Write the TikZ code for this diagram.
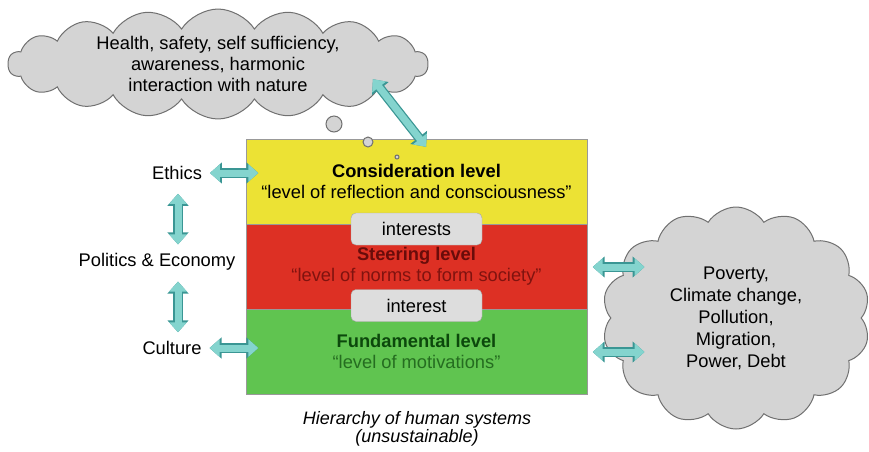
\documentclass[tikz,border=0pt]{standalone}
\usepackage{fontspec}
\setmainfont{Liberation Sans}
\usetikzlibrary{shapes.symbols,arrows.meta,calc}
\definecolor{layeryellow}{RGB}{236,226,52}
\definecolor{layerred}{RGB}{221,48,36}
\definecolor{layergreen}{RGB}{96,196,80}
\definecolor{cloudgray}{RGB}{212,212,212}
\definecolor{cloudline}{RGB}{112,112,112}
\definecolor{tealfill}{RGB}{132,212,206}
\definecolor{tealline}{RGB}{58,150,148}
\definecolor{steertext}{RGB}{105,12,10}
\definecolor{fundtext}{RGB}{12,72,12}
\begin{document}
\begin{tikzpicture}[x=1pt,y=-1pt,
  every node/.style={font=\fontsize{18.3}{21}\selectfont},
  layer/.style={draw=gray!80, minimum width=341pt, minimum height=85pt, inner sep=0pt, align=center},
  tag/.style={draw=gray!70, fill=cloudgray!80, rounded corners=5pt, minimum width=131pt, minimum height=32pt, inner sep=0pt},
  thought/.style={cloud, cloud ignores aspect, cloud puff arc=115, draw=cloudline, fill=cloudgray, line width=1pt, inner sep=0pt, align=center},
  bubble/.style={draw=cloudline, fill=cloudgray, line width=1pt},
  link/.style={draw=tealfill, line width=7pt,
    {Triangle[length=10pt,width=17pt]}-{Triangle[length=10pt,width=17pt]},
    shorten <=1.5pt, shorten >=1.5pt,
    preaction={draw=tealline, line width=9.5pt,
      {Triangle[length=12pt,width=20.5pt]}-{Triangle[length=12pt,width=20.5pt]}}}]
\useasboundingbox (0,0) rectangle (869,451);

% the three levels
\node[layer, fill=layeryellow] (consid) at (416.5,181.5) {\textbf{Consideration level}\\``level of reflection and consciousness''};
\node[layer, fill=layerred] (steer) at (416.5,266.5) {\textcolor{steertext}{\textbf{Steering level}}\\\textcolor{steertext!80!layerred}{``level of norms to form society''}};
\node[layer, fill=layergreen] (fund) at (416.5,351.5) {\textcolor{fundtext}{\textbf{Fundamental level}}\\\textcolor{fundtext!70!layergreen}{``level of motivations''}};
\node[tag] (interests) at (416.5,229) {interests};
\node[tag] (interest) at (416.5,305.5) {interest};
\node[font=\fontsize{18}{18}\selectfont\itshape, align=center] (caption) at (417,429) {Hierarchy of human systems\\(unsustainable)};

% clouds
\node[thought, cloud puffs=18, minimum width=420pt, minimum height=70pt] (goals) at (218,64) {Health, safety, self sufficiency,\\awareness, harmonic\\interaction with nature};
\node[thought, cloud puffs=14, minimum width=268pt, minimum height=222pt, font=\fontsize{18.3}{22}\selectfont] (problems) at (736,318) {Poverty,\\Climate change,\\Pollution,\\Migration,\\Power, Debt};
\draw[bubble] (334,124) circle (8);
\draw[bubble] (368,142) circle (5);
\draw[bubble] (397,157) circle (2);

% left side
\node (ethics) at (177,173) {Ethics};
\node (politics) at (157,262) {Politics \& Economy};
\node (culture) at (172,348) {Culture};

\coordinate (goalsend) at (372,78);
\coordinate (considtop) at (427,148);
\coordinate (problemsup) at (646,267);
\coordinate (problemsdown) at (646,352);

\draw[link] (goalsend) -- (considtop);
\draw[link] ($(ethics.east)+(3,0)$) -- ($(consid.west |- ethics.east)+(14,0)$);
\draw[link] ($(culture.east)+(3,0)$) -- ($(fund.west |- culture.east)+(14,0)$);
\draw[link] ($(ethics.south)+(1,9)$) -- ($(ethics.south |- politics.north)+(1,-4)$);
\draw[link] ($(ethics.south |- politics.south)+(1,6)$) -- ($(ethics.south |- culture.north)+(1,-4)$);
\draw[link] ($(steer.east |- problemsup)+(4,0)$) -- (problemsup);
\draw[link] ($(fund.east |- problemsdown)+(4,0)$) -- (problemsdown);
\end{tikzpicture}
\end{document}
